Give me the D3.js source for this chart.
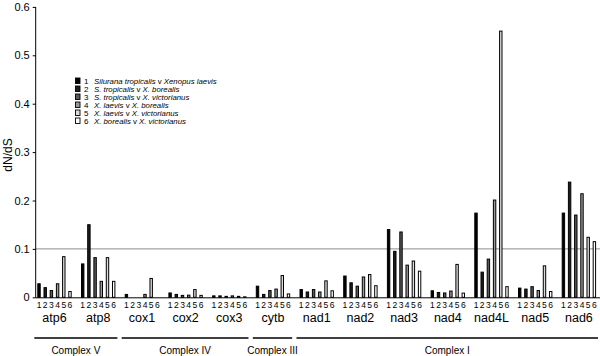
<!DOCTYPE html>
<html><head><meta charset="utf-8">
<script src="https://cdn.jsdelivr.net/npm/d3@7"></script>
<style>body{margin:0;background:#fff}svg{display:block}text{font-family:"Liberation Sans",Arial,sans-serif}</style>
</head><body>
<script>
const genes = ["atp6","atp8","cox1","cox2","cox3","cytb","nad1","nad2","nad3","nad4","nad4L","nad5","nad6"];
const pairs = ["1","2","3","4","5","6"];
const s1 = [0.029,0.070,0.007,0.010,0.004,0.024,0.017,0.045,0.141,0.0145,0.175,0.020,0.175];
const s2 = [0.021,0.151,0.001,0.007,0.004,0.007,0.012,0.031,0.096,0.011,0.053,0.018,0.239];
const s3 = [0.015,0.083,0.001,0.005,0.003,0.015,0.017,0.024,0.136,0.010,0.080,0.023,0.171];
const s4 = [0.029,0.034,0.007,0.0055,0.004,0.018,0.012,0.043,0.0675,0.014,0.202,0.015,0.215];
const s5 = [0.085,0.083,0.040,0.017,0.003,0.046,0.035,0.048,0.076,0.069,0.551,0.066,0.125];
const s6 = [0.013,0.034,0.001,0.005,0.002,0.008,0.0145,0.025,0.055,0.0097,0.023,0.013,0.116];
const yTicks = [0,0.1,0.2,0.3,0.4,0.5,0.6];
const complexes = [
  {name:"Complex V", from:"atp6", to:"atp8"},
  {name:"Complex IV", from:"cox1", to:"cox3"},
  {name:"Complex III", from:"cytb", to:"cytb"},
  {name:"Complex I", from:"nad1", to:"nad6"}
];
const legend = [
  [["Silurana tropicalis",true],[" v ",false],["Xenopus laevis",true]],
  [["S. tropicalis",true],[" v ",false],["X. borealis",true]],
  [["S. tropicalis",true],[" v ",false],["X. victorianus",true]],
  [["X. laevis",true],[" v ",false],["X. borealis",true]],
  [["X. laevis",true],[" v ",false],["X. victorianus",true]],
  [["X. borealis",true],[" v ",false],["X. victorianus",true]]
];
const series = [s1,s2,s3,s4,s5,s6];
const fills = ["#000000","#1e1e1e","#5a5a5a","#9a9a9a","#dcdcdc","#ffffff"];

const W=600,H=356;
const svg=d3.select("body").append("svg").attr("width",W).attr("height",H);
const axisX=35.7, y0=297.3;
const y=d3.scaleLinear().domain([0,0.6]).range([y0,y0-6*48.4]);
const p0=0.213;
const x0=d3.scaleBand().domain(genes).range([37.3,37.3+43.7*(13-p0)]).paddingInner(p0).paddingOuter(0);
const x1=d3.scaleBand().domain(pairs).range([0,x0.bandwidth()]).paddingInner(0.45).paddingOuter(0);
const color=d3.scaleOrdinal().domain(pairs).range(fills);

// gridline at 0.1
svg.append("line").attr("x1",axisX).attr("x2",W).attr("y1",y(0.1)).attr("y2",y(0.1))
  .attr("stroke","#8c8c8c").attr("stroke-width",1);

// bars
const data=[];
genes.forEach((g,i)=>pairs.forEach((p,j)=>data.push({g,p,v:series[j][i]})));
svg.append("g").selectAll("rect").data(data).join("rect")
  .attr("x",d=>x0(d.g)+x1(d.p)+0.5)
  .attr("width",x1.bandwidth()-1)
  .attr("y",d=>y(d.v)+0.5)
  .attr("height",d=>Math.max(0,y(0)-y(d.v)-0.5))
  .attr("fill",d=>color(d.p)).attr("stroke","#000").attr("stroke-width",1);

// baseline
svg.append("line").attr("x1",axisX).attr("x2",W).attr("y1",y0+0.5).attr("y2",y0+0.5).attr("stroke","#000").attr("stroke-width",1);

// y axis
const ya=svg.append("g").attr("transform",`translate(${axisX},0)`)
  .call(d3.axisLeft(y).tickValues(yTicks).tickFormat(d=>d===0?"0":d3.format(".1f")(d)).tickSize(3).tickPadding(3));
ya.select(".domain").attr("d",`M0,${y(0.6)}V${y0+0.5}`);
ya.selectAll("text").attr("font-size",11).attr("font-family","Liberation Sans, Arial, sans-serif").attr("fill","#000");
ya.selectAll("line,path").attr("stroke","#000");

svg.append("text").attr("transform",`translate(12,155) rotate(-90)`).attr("text-anchor","middle")
  .attr("font-size",12).text("dN/dS");

// pair numbers and gene labels
const gx=svg.append("g");
genes.forEach(g=>{
  pairs.forEach(p=>{
    gx.append("text").attr("x",x0(g)+x1(p)+x1.bandwidth()/2).attr("y",307.5)
      .attr("text-anchor","middle").attr("font-size",8.5).text(p);
  });
  gx.append("text").attr("x",x0(g)+x0.bandwidth()/2).attr("y",322)
    .attr("text-anchor","middle").attr("font-size",12.5).text(g);
});

// complexes
complexes.forEach(c=>{
  const a=x0(c.from)-3, b=Math.min(x0(c.to)+x0.bandwidth()+2,W-2);
  svg.append("line").attr("x1",a).attr("x2",b).attr("y1",338).attr("y2",338)
    .attr("stroke","#000").attr("stroke-width",1.6);
  svg.append("text").attr("x",(a+b)/2).attr("y",354).attr("text-anchor","middle")
    .attr("font-size",10).text(c.name);
});

// legend
const lg=svg.append("g");
legend.forEach((parts,i)=>{
  const yy=81+i*8;
  lg.append("rect").attr("x",75.5).attr("y",yy-3).attr("width",4.5).attr("height",5.5)
    .attr("fill",fills[i]).attr("stroke","#000").attr("stroke-width",0.9);
  lg.append("text").attr("x",84).attr("y",yy+2.7).attr("font-size",8).text(pairs[i]);
  const t=lg.append("text").attr("x",94).attr("y",yy+2.7).attr("font-size",7.8);
  parts.forEach(([s,it])=>t.append("tspan").attr("font-style",it?"italic":"normal").text(s));
});
</script>
</body></html>
